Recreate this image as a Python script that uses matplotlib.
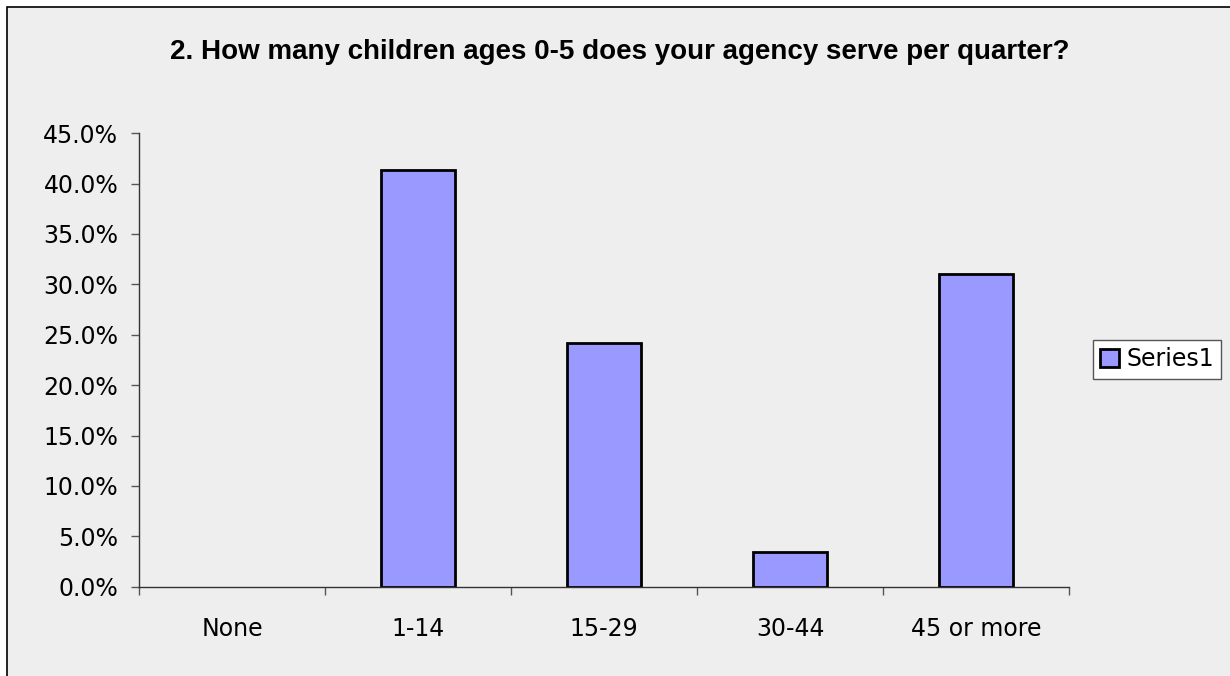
import matplotlib
matplotlib.use('Agg')
import matplotlib.pyplot as plt
from matplotlib.patches import Rectangle, Patch
from matplotlib.ticker import PercentFormatter

# survey answers (29 responses)
categories = ['None', '1-14', '15-29', '30-44', '45 or more']
counts = [0, 12, 7, 1, 9]
total = 29
values = [c / total for c in counts]
yticks = [0, 0.05, 0.10, 0.15, 0.20, 0.25, 0.30, 0.35, 0.40, 0.45]

bg = '#EEEEEE'
bar_color = '#9999FF'
W, H = 1230, 676

fig = plt.figure(figsize=(12.3, 6.76), dpi=100, facecolor='white')

# chart area with border (left/top visible)
fig.patches.append(Rectangle((7 / W, -0.05), 1.2, 1.05 - 7 / H, transform=fig.transFigure,
                             facecolor=bg, edgecolor='black', linewidth=1.2, zorder=-5))

ax = fig.add_axes([139 / W, 1 - 586.7 / H, (1069 - 139) / W, (586.7 - 133.1) / H])
ax.set_zorder(2)
ax.patch.set_alpha(0)

x = range(len(categories))
bars = ax.bar(x, values, width=0.4, color=bar_color, edgecolor='black', linewidth=2)
# empty bars get no outline
for b, v in zip(bars, values):
    if v == 0:
        b.set_linewidth(0)

ax.set_xlim(-0.5, len(categories) - 0.5)
ax.set_ylim(0, 0.45)
ax.set_yticks(yticks)
ax.yaxis.set_major_formatter(PercentFormatter(1.0, decimals=1))
ax.set_xticks(list(x))
ax.set_xticklabels(categories)
ax.set_xticks([i - 0.5 for i in range(len(categories) + 1)], minor=True)

for s in ['top', 'right']:
    ax.spines[s].set_visible(False)
for s in ['left', 'bottom']:
    ax.spines[s].set_color('#333333')
    ax.spines[s].set_linewidth(1.0)

ax.tick_params(axis='y', length=6, width=1, color='#555555', labelsize=17, pad=9)
ax.tick_params(axis='x', which='major', length=0, labelsize=17, pad=22)
ax.tick_params(axis='x', which='minor', length=6, width=1, color='#555555')

fig.text(620 / W, 1 - 52 / H, '2. How many children ages 0-5 does your agency serve per quarter?',
         ha='center', va='center', fontsize=20, fontweight='bold', family='Liberation Sans')

handle = Patch(facecolor=bar_color, edgecolor='black', linewidth=2, label='Series1')
leg = ax.legend(handles=[handle], loc='center left', bbox_to_anchor=(1093 / W, 1 - 359.5 / H),
                bbox_transform=fig.transFigure, frameon=True, fancybox=False,
                fontsize=17, handlelength=0.8, handleheight=0.8, handletextpad=0.3,
                borderpad=0.3, borderaxespad=0)
leg.get_frame().set_edgecolor('#555555')
leg.get_frame().set_facecolor('white')
leg.get_frame().set_alpha(1)

fig.savefig('out.png', dpi=100, facecolor='white')
